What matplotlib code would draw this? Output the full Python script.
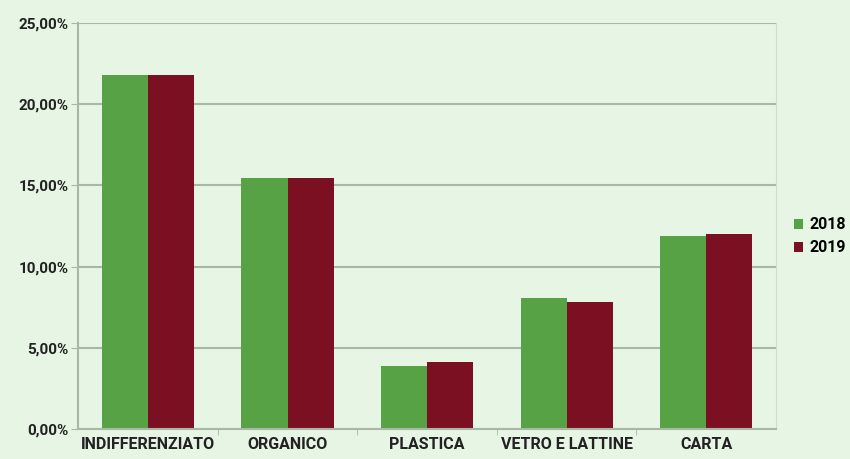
import numpy as np
import matplotlib.pyplot as plt
from matplotlib.ticker import FuncFormatter

categories = ["INDIFFERENZIATO", "ORGANICO", "PLASTICA", "VETRO E LATTINE", "CARTA"]
val_2018 = [21.8, 15.45, 3.88, 8.07, 11.88]
val_2019 = [21.8, 15.45, 4.13, 7.82, 12.0]

bg = "#e7f5e4"
green = "#57a244"
red = "#7b1022"
grid = "#a9b8a6"

plt.rcParams['font.family'] = ['Liberation Sans Narrow', 'Roboto', 'DejaVu Sans']

fig = plt.figure(figsize=(8.5, 4.59), dpi=100, facecolor=bg)
ax = fig.add_axes([0.092, 0.065, 0.821, 0.885], facecolor=bg)

x = np.arange(len(categories))
w = 0.33
ax.bar(x - w / 2, val_2018, w, color=green, label="2018")
ax.bar(x + w / 2, val_2019, w, color=red, label="2019")

ax.set_xlim(-0.5, len(categories) - 0.5)
ax.set_ylim(0, 25)
ax.set_yticks(np.arange(0, 26, 5))
ax.yaxis.set_major_formatter(FuncFormatter(lambda v, p: f"{v:.2f}%".replace(".", ",")))
ax.set_xticks(x)
ax.set_xticklabels(categories)
ax.set_xticks(np.arange(0.5, len(categories) - 0.5), minor=True)
ax.tick_params(axis='x', which='major', length=0, pad=6, labelsize=11.5)
ax.tick_params(axis='x', which='minor', length=4, color=grid)
ax.tick_params(axis='y', length=5, color=grid, labelsize=11, pad=2)
for lab in ax.get_xticklabels() + ax.get_yticklabels():
    lab.set_fontweight('bold')
    lab.set_color("#222222")

ax.grid(axis='y', color=grid, linewidth=1.5)
ax.set_axisbelow(True)
ax.spines['top'].set_visible(False)
ax.spines['right'].set_color("#d0dccd")
ax.spines['left'].set_color(grid)
ax.spines['bottom'].set_color(grid)
ax.spines['left'].set_linewidth(1.5)
ax.spines['bottom'].set_linewidth(1.5)

ax.legend(loc='center left', bbox_to_anchor=(1.005, 0.475), frameon=False,
          handlelength=0.6, handleheight=0.6, handletextpad=0.4,
          labelspacing=0.5, prop={'size': 11.5, 'weight': 'bold'})

fig.savefig("out.png", dpi=100, facecolor=bg)
